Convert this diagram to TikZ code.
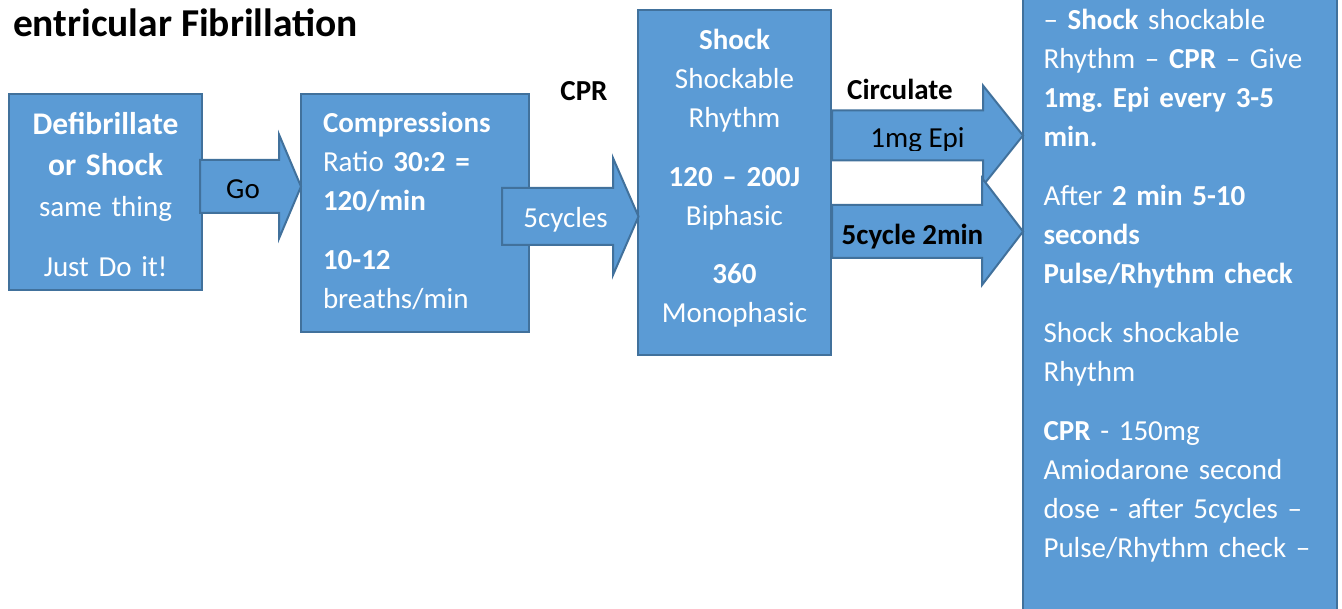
\documentclass[tikz,border=0pt]{standalone}
\usepackage{fontspec}
\setmainfont{Carlito}
\frenchspacing
\definecolor{boxblue}{HTML}{5B9BD5}
\definecolor{boxedge}{HTML}{41719C}
% block arrow: tail x, tip x, centre y, shaft half height, head half height, head base x
\newcommand\blkarrow[6]{%
  \draw[blk] (#1,#3-#4) -- (#6,#3-#4) -- (#6,#3-#5) -- (#2,#3) --
    (#6,#3+#5) -- (#6,#3+#4) -- (#1,#3+#4) -- cycle;}
\newcommand\bigbf[1]{{\fontsize{31.5}{41}\selectfont\bfseries #1}}
\begin{document}
\begin{tikzpicture}[x=1pt,y=-1pt,
  blk/.style={fill=boxblue,draw=boxedge,line width=2pt,line join=miter},
  box/.style={blk,anchor=north west,inner sep=0pt,outer sep=0pt},
  txt/.style={inner sep=0pt,outer sep=0pt},
  wtxt/.style={txt,text=white},
  ktxt/.style={txt,text=black,font=\fontsize{29}{39}\selectfont}]
\clip (0,0) rectangle (1342,609);
\fill[white] (0,0) rectangle (1342,609);

% title
\node[txt,anchor=base east,font=\fontsize{39.5}{47}\selectfont\bfseries] (title) at (358,37) {entricular Fibrillation};

% boxes
\node[box,minimum width=193pt,minimum height=196pt] (defib) at (9,94) {};
\node[box,minimum width=228pt,minimum height=238pt] (comp) at (301,94) {};
\node[box,minimum width=193pt,minimum height=345pt] (shock) at (638,10) {};
\node[box,minimum width=314pt,minimum height=640pt] (algo) at (1022.5,-10) {};

% box texts
\node[wtxt,anchor=base,text width=190pt,align=center,font=\fontsize{29}{41}\selectfont] (defibtxt) at (105.5,135)
  {\bigbf{Defibrillate}\\\bigbf{or Shock}\\same thing\\[19pt]Just Do it!};
\node[wtxt,anchor=base west,text width=200pt,align=left,font=\fontsize{29}{39}\selectfont] (comptxt) at (323,133)
  {\textbf{Compressions}\\Ratio \textbf{30:2 =}\\\textbf{120/min}\\[20pt]\textbf{10-12}\\breaths/min};
\node[wtxt,anchor=base,text width=190pt,align=center,font=\fontsize{29}{38.8}\selectfont] (shocktxt) at (734.5,50)
  {\textbf{Shock}\\Shockable\\Rhythm\\[20pt]\textbf{120 – 200J}\\Biphasic\\[20pt]\textbf{360}\\Monophasic};
\node[wtxt,anchor=base west,text width=290pt,align=left,font=\fontsize{29}{39}\selectfont] (algotxt) at (1043.5,30)
  {– \textbf{Shock} shockable\\Rhythm – \textbf{CPR} – Give\\\textbf{1mg. Epi every 3-5}\\\textbf{min.}\\[20pt]
   After \textbf{2 min 5-10}\\\textbf{seconds}\\\textbf{Pulse/Rhythm check}\\[20pt]
   Shock shockable\\Rhythm\\[20pt]
   \textbf{CPR} - 150mg\\Amiodarone second\\dose - after 5cycles –\\Pulse/Rhythm check –};

% block arrows
\blkarrow{200}{301}{186.5}{26.5}{52}{279}
\blkarrow{502}{638.5}{216.5}{28.5}{58.5}{613}
\blkarrow{832}{1023}{135.5}{25}{50}{983}
\blkarrow{832}{1023}{231.5}{26.5}{53.5}{982}

% arrow labels
\node[ktxt,anchor=base] (go) at (243,199) {Go};
\node[ktxt,anchor=base,text=white] (cyc) at (565.5,228) {5cycles};
\node[ktxt,anchor=base,font=\fontsize{29}{39}\selectfont\bfseries] (cpr) at (584,101) {CPR};
\node[ktxt,anchor=base,font=\fontsize{29}{39}\selectfont\bfseries] (circ) at (900,100) {Circulate};
\begin{scope}
  \clip (834,112) rectangle (981,150.5);
  \node[ktxt,anchor=base] (epi) at (917.5,148) {1mg Epi};
\end{scope}
\node[ktxt,anchor=base,font=\fontsize{29}{39}\selectfont\bfseries] (twomin) at (912.5,245) {5cycle 2min};
\end{tikzpicture}
\end{document}
